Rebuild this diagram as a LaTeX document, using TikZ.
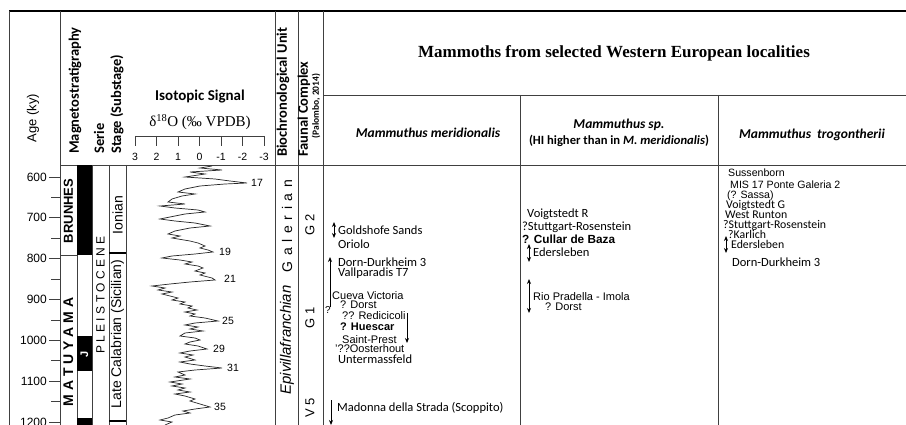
\documentclass[tikz,border=0pt]{standalone}
\usepackage{fontspec}
\setmainfont{Liberation Sans}
\newfontfamily\calibri{Carlito}
\newfontfamily\timesfont{Liberation Serif}
\usetikzlibrary{arrows.meta}
\usetikzlibrary{positioning}

\newcommand{\fs}[1]{\fontsize{#1}{#1}\selectfont}
\newcommand{\gap}{\hspace{0.4em}}

\tikzset{
  rule/.style={draw=black!75, line width=0.8pt},
  headrot/.style={rotate=90, anchor=west, inner sep=0pt, font=\calibri\bfseries\fs{14.5}},
  colrot/.style={rotate=90, inner sep=0pt},
  locC/.style={anchor=west, inner sep=0pt, font=\calibri\fs{12.5}},
  locA/.style={anchor=west, inner sep=0pt, font=\fs{11}},
  tightC/.style={locC, font=\calibri\fs{11.8}},
  tightA/.style={locA, font=\fs{10.6}},
  peak/.style={anchor=west, inner sep=0pt, font=\fs{10.5}},
  twoway/.style={line width=0.8pt, {Stealth[length=5pt,width=4pt]}-{Stealth[length=5pt,width=4pt]}},
  oneway/.style={line width=0.8pt, -{Stealth[length=5pt,width=4pt]}},
}

\begin{document}
\begin{tikzpicture}[x=1pt, y=-1pt]
  \useasboundingbox (0,0) rectangle (906,425);
  \clip (0,0) rectangle (906,425);
  \fill[white] (0,0) rectangle (906,425);

  % frame and column rules
  \draw[line width=1.6pt] (9,11) -- (906,11);
  \draw[rule] (9,11) -- (9,425);
  \foreach \x in {60, 275, 298, 323} {
    \draw[rule] (\x,11) -- (\x,425);
  }
  \draw[rule] (60,165) -- (906,165);
  \draw[rule] (323,95) -- (906,95);
  \draw[rule] (520,95) -- (520,425);
  \draw[rule] (718,95) -- (718,425);
  \foreach \x in {77, 92, 109, 126} {
    \draw[rule] (\x,165) -- (\x,425);
  }

  % polarity and stage limits
  \fill (77,165) rectangle (92,255);
  \fill (77,{177+(990-600)*0.4083}) rectangle (92,{177+(1075-600)*0.4083});
  \fill (77,418) rectangle (92,425);
  \draw[rule] (60,255) -- (77,255);
  \draw[line width=2pt] (109,253) -- (126,253);
  \draw[line width=2pt] (109,421) -- (126,421);

  % age axis
  \foreach \a in {600,700,...,1200} {
    \draw[rule] (49,{177+(\a-600)*0.4083}) -- (60,{177+(\a-600)*0.4083});
    \node[anchor=east, inner sep=0pt, font=\fs{12}] (age\a) at (47,{177+(\a-600)*0.4083}) {\a};
  }
  \foreach \a in {650,750,...,1150} {
    \draw[rule] (51,{177+(\a-600)*0.4083}) -- (60,{177+(\a-600)*0.4083});
  }

  % isotope scale
  \draw[rule] (135,136) -- (264,136);
  \foreach \v [count=\i from 0] in {3,2,1,0,-1,-2,-3} {
    \draw[rule] ({135+\i*21.5},136) -- ({135+\i*21.5},146);
    \node[font=\fs{10.5}, inner sep=0pt] (tick\i) at ({135+\i*21.5},157) {\v};
  }

  % headers
  \node[rotate=90, font=\fs{13}] (agehead) at (33,118) {Age (ky)};
  \node[headrot] (magneto) at (75,154) {Magnetostratigraphy};
  \node[headrot] (serie) at (99,154) {Serie};
  \node[headrot] (stage) at (117,154) {Stage (Substage)};
  \node[font=\calibri\bfseries\fs{15}] (isohead) at (200,97) {Isotopic Signal};
  \node[font=\timesfont\fs{15}] (isounit) at (200,122) {δ\textsuperscript{18}O (‰ VPDB)};
  \node[headrot] (biohead) at (283,157) {Biochronological Unit};
  \node[headrot] (faunhead) at (304,157) {Faunal Complex};
  \node[rotate=90, font=\calibri\bfseries\fs{9.5}] (palombo) at (316,106) {(Palombo, 2014)};

  \node[font=\timesfont\bfseries\fs{17}] (mamhead) at (614,53) {Mammoths from selected Western European localities};
  \node[font=\calibri\bfseries\itshape\fs{13.5}] (merhead) at (428,133) {Mammuthus meridionalis};
  \node[font=\calibri\bfseries\itshape\fs{13.5}, inner sep=0pt] (sphead) at (619,125) {Mammuthus sp.};
  \node[font=\calibri\bfseries\fs{12.6}, inner sep=0pt, below=4pt of sphead] (sphi) {(HI higher than in \textit{M. meridionalis})};
  \node[font=\calibri\bfseries\itshape\fs{13.5}] (troghead) at (812,135) {Mammuthus\ \ trogontherii};

  % column texts
  \node[colrot, font=\bfseries\fs{13}] (brunhes) at (68.5,211) {BRUNHES};
  \node[colrot, font=\bfseries\fs{14}] (matuyama) at (68.5,352) {M A T U Y A M A};
  \node[colrot, text=white, font=\bfseries\fs{11}] (jaram) at (84.5,354) {J};
  \node[colrot, font=\fs{12}] (pleist) at (100.5,295) {P L E I S T O C E N E};
  \node[colrot, font=\fs{14}] (ionian) at (117.5,215) {Ionian};
  \node[colrot, font=\fs{14}] (calab) at (117.5,334) {Late Calabrian (Sicilian)};
  \node[colrot, font=\fs{14}] (galerian) at (287,226) {G\gap a\gap l\gap e\gap r\gap i\gap a\gap n};
  \node[colrot, font=\itshape\fs{15}] (epivilla) at (287,340) {Epivillafranchian};
  \node[colrot, font=\fs{13}] (g2) at (310,225) {G 2};
  \node[colrot, font=\fs{13}] (g1) at (310,318) {G 1};
  \node[colrot, font=\fs{13}] (v5) at (310,408) {V 5};

  % isotopic signal
  \draw[line width=0.7pt, black!85] plot coordinates {
    (212,166) (200,168) (222,170) (190,172) (205,174) (185,177) (215,179) (230,181)
    (247,183) (225,184) (200,186) (185,189) (178,192) (195,194) (182,196) (172,199)
    (168,202) (185,204) (160,206) (175,208) (198,210) (205,212) (185,214) (170,217)
    (160,219) (175,221) (195,223) (210,226) (190,228) (175,231) (168,234) (180,236)
    (172,238) (190,241) (198,243) (205,246) (200,248) (208,250) (213,252) (195,254)
    (172,256) (162,258) (180,260) (192,262) (185,264) (198,266) (203,268) (195,271)
    (205,273) (200,275) (212,278) (215,280) (190,282) (170,284) (152,286) (165,288)
    (158,290) (172,292) (162,294) (170,296) (178,298) (172,300) (185,302) (180,304)
    (192,306) (188,308) (197,310) (185,312) (195,314) (190,316) (205,318) (218,321)
    (195,323) (185,325) (198,327) (190,329) (203,331) (185,333) (180,336) (195,338)
    (200,340) (190,342) (185,344) (198,346) (207,349) (190,351) (180,353) (193,355)
    (185,357) (195,360) (180,362) (190,364) (205,366) (222,368) (195,370) (178,372)
    (185,375) (175,377) (190,379) (170,382) (182,384) (172,386) (185,388) (178,390)
    (190,392) (175,394) (185,396) (195,399) (190,401) (200,404) (210,407) (195,409)
    (183,411) (190,413) (175,415) (168,418) (160,420) (172,422) (165,425)
  };
  \node[peak] (mis17) at (251,183) {17};
  \node[peak] (mis19) at (219,252) {19};
  \node[peak] (mis21) at (224,279) {21};
  \node[peak] (mis25) at (222,321) {25};
  \node[peak] (mis29) at (213,349) {29};
  \node[peak] (mis31) at (227,368) {31};
  \node[peak] (mis35) at (214,407) {35};

  % Mammuthus meridionalis
  \node[locC] (goldshofe) at (338,230) {Goldshofe Sands};
  \node[locC] (oriolo) at (338,244) {Oriolo};
  \node[locC] (dornM) at (338,262) {Dorn-Durkheim 3};
  \node[locC] (vallparadis) at (338,273) {Vallparadis T7};
  \node[locA] (cueva) at (332,296) {Cueva Victoria};
  \node[locA] (dorstM) at (340,305) {? Dorst};
  \node[locA, font=\fs{10}] (qmark) at (325,310) {?};
  \node[locA] (redicicoli) at (342,316) {?? Redicicoli};
  \node[locA, font=\bfseries\fs{11}] (huescar) at (340,327) {? Huescar};
  \node[locA] (saintprest) at (342,340) {Saint-Prest};
  \node[locA] (oosterhout) at (335,349) {'??Oosterhout};
  \node[locC] (untermass) at (338,359) {Untermassfeld};
  \node[locC] (madonna) at (337,408) {Madonna della Strada (Scoppito)};
  \coordinate (goldA) at (334,222);
  \coordinate (goldB) at (334,238);
  \coordinate (epiA) at (330,307);
  \coordinate (epiB) at (330,257);
  \coordinate (redA) at (407,313);
  \coordinate (redB) at (407,343);
  \coordinate (madA) at (331,400);
  \coordinate (madB) at (331,425);
  \draw[twoway] (goldA) -- (goldB);
  \draw[oneway] (epiA) -- (epiB);
  \draw[oneway] (redA) -- (redB);
  \draw[oneway] (madA) -- (madB);

  % Mammuthus sp.
  \node[locC] (voigtR) at (527,214) {Voigtstedt R};
  \node[locC] (stuttS) at (522,227) {?Stuttgart-Rosenstein};
  \node[locA, font=\bfseries\fs{11.8}] (cullar) at (522,239) {? Cullar de Baza};
  \node[locC] (ederS) at (533,252) {Edersleben};
  \node[locA] (pradella) at (533,297) {Rio Pradella - Imola};
  \node[locA] (dorstS) at (545,307) {? Dorst};
  \coordinate (ederSA) at (529,244);
  \coordinate (ederSB) at (529,262);
  \coordinate (pradA) at (529,279);
  \coordinate (pradB) at (529,313);
  \draw[twoway] (ederSA) -- (ederSB);
  \draw[twoway] (pradA) -- (pradB);

  % Mammuthus trogontherii
  \node[tightA] (sussenborn) at (728,173) {Sussenborn};
  \node[tightA] (ponte) at (730,185) {MIS 17 Ponte Galeria 2};
  \node[tightA] (sassa) at (727,196) {(? Sassa)};
  \node[tightC] (voigtG) at (726,205.5) {Voigtstedt G};
  \node[tightC] (westrunton) at (725,214.5) {West Runton};
  \node[tightC] (stuttT) at (723,225) {?Stuttgart-Rosenstein};
  \node[tightC] (karlich) at (728,234) {?Karlich};
  \node[tightC] (ederT) at (731,244) {Edersleben};
  \node[locC] (dornT) at (732,262) {Dorn-Durkheim 3};
  \coordinate (ederTA) at (726,236);
  \coordinate (ederTB) at (726,253);
  \draw[twoway] (ederTA) -- (ederTB);
\end{tikzpicture}
\end{document}
